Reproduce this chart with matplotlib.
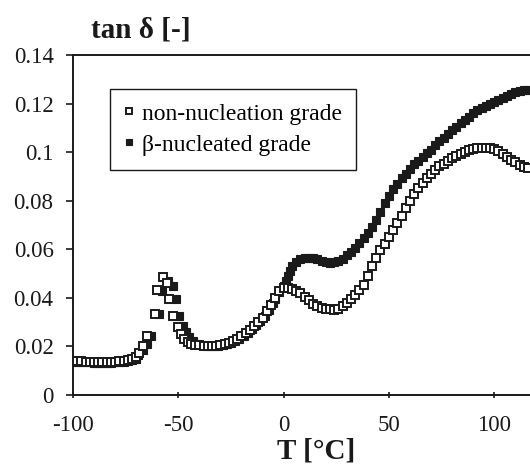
import matplotlib
matplotlib.use("Agg")
import matplotlib.pyplot as plt

# non-nucleation grade (open squares)
T_open = [-100, -98, -96, -94, -92, -90, -88, -86, -84, -82, -80, -78, -76, -74, -72, -70,
          -68.5, -66.8, -64.8, -61.3, -60, -57.4, -55.6, -54.2, -52.7, -50.3, -48.7, -47.2,
          -45.5, -44, -42, -40, -38, -36, -34, -32, -30, -28, -26, -24, -22, -20, -18, -16,
          -14, -12, -10, -8, -6, -4, -2, 0, 2, 4, 6, 8, 10, 12, 14, 16, 18, 20, 22, 24, 26,
          28, 30, 32, 34, 36, 38, 40, 42, 44, 46, 48, 50, 52, 54, 56, 58, 60, 62, 64, 66, 68,
          70, 72, 74, 76, 78, 80, 82, 84, 86, 88, 90, 92, 94, 96, 98, 100, 102, 104, 106,
          108, 110, 112, 114, 116]
tan_open = [0.0140, 0.0139, 0.0138, 0.0137, 0.0136, 0.0135, 0.0134, 0.0134, 0.0134, 0.0135,
            0.0136, 0.0138, 0.0140, 0.0143, 0.0148, 0.0157,
            0.0175, 0.0202, 0.0244, 0.0333, 0.0434, 0.0485, 0.0462, 0.0395, 0.0326, 0.0278,
            0.0250, 0.0230,
            0.0218, 0.0212, 0.0207, 0.0204, 0.0202, 0.0201, 0.0201, 0.0202, 0.0205, 0.0209,
            0.0215, 0.0222, 0.0231, 0.0242, 0.0254, 0.0268, 0.0283, 0.0300, 0.0318, 0.0345,
            0.0370, 0.0400, 0.0430, 0.0442, 0.0442, 0.0436, 0.0430, 0.0420, 0.0405, 0.0390,
            0.0376, 0.0366, 0.0360, 0.0356, 0.0353, 0.0352, 0.0356, 0.0366, 0.0380, 0.0396,
            0.0412, 0.0432, 0.0455, 0.0490, 0.0530, 0.0565, 0.0596, 0.0622, 0.0650, 0.0680,
            0.0710, 0.0738, 0.0768, 0.0798, 0.0828, 0.0852, 0.0875, 0.0895, 0.0912, 0.0928,
            0.0942, 0.0953, 0.0965, 0.0975, 0.0985, 0.0994, 0.1002, 0.1008, 0.1014, 0.1018,
            0.1019, 0.1018, 0.1016, 0.1013, 0.1005, 0.0993, 0.0982, 0.0968, 0.0958, 0.0948,
            0.0940, 0.0935]

# beta-nucleated grade (filled squares)
T_beta = [-100, -98, -96, -94, -92, -90, -88, -86, -84, -82, -80, -78, -76, -74, -72, -70,
          -69, -67, -65, -62.9, -59, -57.9, -55, -52.7, -51, -49.5, -48, -46.5, -45, -43,
          -41, -39, -37, -35, -33, -31, -29, -27, -25, -23, -21, -19, -17, -15, -13, -11,
          -9, -7, -5, -4, -2, 0, 1, 2, 3, 4, 6, 8, 10, 12, 14, 16, 18, 20, 22, 24, 26, 28, 30, 32,
          34, 36, 38, 40, 42, 44, 46, 48, 50, 52, 54, 56, 58, 60, 62, 64, 66, 68, 70, 72, 74,
          76, 78, 80, 82, 84, 86, 88, 90, 92, 94, 96, 98, 100, 102, 104, 106, 108, 110, 112,
          114, 116]
tan_beta = [0.0138, 0.0137, 0.0136, 0.0135, 0.0134, 0.0133, 0.0132, 0.0132, 0.0132, 0.0133,
            0.0134, 0.0135, 0.0137, 0.0140, 0.0144, 0.0150,
            0.0163, 0.0185, 0.0210, 0.0244, 0.0333, 0.0427, 0.0470, 0.0450, 0.0395, 0.0326,
            0.0285, 0.0260, 0.0240, 0.0222,
            0.0212, 0.0205, 0.0202, 0.0200, 0.0200, 0.0201, 0.0204, 0.0208, 0.0214, 0.0222,
            0.0231, 0.0243, 0.0256, 0.0270, 0.0287, 0.0305, 0.0325, 0.0350, 0.0378, 0.0395,
            0.0425, 0.0450, 0.0470, 0.0492, 0.0512, 0.0530, 0.0548, 0.0558, 0.0564, 0.0566,
            0.0565, 0.0560,
            0.0553, 0.0548, 0.0545, 0.0547, 0.0553, 0.0562, 0.0575, 0.0590, 0.0605, 0.0625,
            0.0645, 0.0668, 0.0693, 0.0722, 0.0755, 0.0790, 0.0820, 0.0848, 0.0870, 0.0893,
            0.0912, 0.0932, 0.0950, 0.0965, 0.0980, 0.0995, 0.1010, 0.1028, 0.1045, 0.1060,
            0.1075, 0.1090, 0.1105, 0.1118, 0.1132, 0.1146, 0.1160, 0.1172, 0.1182, 0.1192,
            0.1200, 0.1207, 0.1215, 0.1223, 0.1232, 0.1240, 0.1246, 0.1251, 0.1255, 0.1257]

x_ticks = [-100, -50, 0, 50, 100]
x_ticklabels = ["-100", "-50", "0", "50", "100"]
y_ticks = [0, 0.02, 0.04, 0.06, 0.08, 0.1, 0.12, 0.14]
y_ticklabels = ["0", "0.02", "0.04", "0.06", "0.08", "0.1", "0.12", "0.14"]

plt.rcParams['font.family'] = ['Liberation Serif', 'DejaVu Serif']

fig = plt.figure(figsize=(5.30, 4.68), dpi=100)
ax = fig.add_axes([73/530, 1-395/468, 1-73/530 + 0.01, (395-55)/468])

ax.plot(T_beta, tan_beta, linestyle='none', marker='s', markersize=6.0,
        markerfacecolor='#1a1a1a', markeredgecolor='#1a1a1a', markeredgewidth=0.8,
        label='β-nucleated grade', zorder=3)
ax.plot(T_open, tan_open, linestyle='none', marker='s', markersize=5.4,
        markerfacecolor='white', markeredgecolor='#1a1a1a', markeredgewidth=1.4,
        label='non-nucleation grade', zorder=4)

ax.set_xlim(-100, 119.5)
ax.set_ylim(0, 0.14)
ax.set_xticks(x_ticks)
ax.set_xticklabels(x_ticklabels)
ax.set_yticks(y_ticks)
ax.set_yticklabels(y_ticklabels)
ax.tick_params(axis='both', labelsize=16.5, colors='#1a1a1a', length=5, width=1.2)
ax.tick_params(axis='x', direction='inout', pad=12)
ax.tick_params(axis='y', direction='out', pad=9)
ax.spines['right'].set_visible(False)
for s in ['left', 'bottom', 'top']:
    ax.spines[s].set_linewidth(1.4)
    ax.spines[s].set_color('#1a1a1a')

handles, labels = ax.get_legend_handles_labels()
leg = ax.legend(handles[::-1], labels[::-1], loc='upper left',
                bbox_to_anchor=(110/530, 1-89/468), bbox_transform=fig.transFigure,
                borderaxespad=0, fancybox=False, framealpha=1, edgecolor='#1a1a1a',
                fontsize=17, handlelength=0.4, handletextpad=0.35, borderpad=0.6,
                labelspacing=0.4, markerscale=0.8)
leg.get_frame().set_linewidth(1.0)

fig.text(141/530, 1-30/468, 'tan δ [-]', fontsize=21, fontweight='bold',
         ha='center', va='center', color='#1a1a1a')
fig.text(316/530, 1-451/468, 'T [°C]', fontsize=21, fontweight='bold',
         ha='center', va='center', color='#1a1a1a')

fig.savefig('out.png', dpi=100)
